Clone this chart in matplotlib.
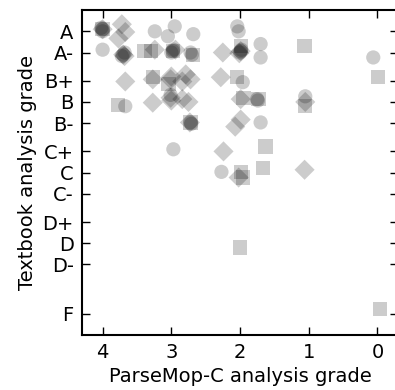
import matplotlib
matplotlib.use("Agg")
import matplotlib.pyplot as plt

# grade scale used on the y axis
grade_names = ['A', 'A-', 'B+', 'B', 'B-', 'C+', 'C', 'C-', 'D+', 'D', 'D-', 'F']
grade_points = [4.0, 3.7, 3.3, 3.0, 2.7, 2.3, 2.0, 1.7, 1.3, 1.0, 0.7, 0.0]

# circles
circ_x = [4.0, 4.0, 4.02, 4.0, 3.7, 3.72, 3.68, 3.24, 2.95, 3.05, 2.98, 3.0, 2.97,
          2.68, 2.72, 2.70, 2.04, 2.02, 1.99, 2.0, 1.98, 1.70, 1.70, 0.06, 1.96,
          3.67, 3.01, 1.75, 1.74, 1.05, 2.72, 2.71, 1.70, 2.97, 2.27]
circ_y = [4.03, 4.0, 4.05, 3.74, 3.67, 3.65, 3.70, 4.0, 4.07, 3.93, 3.72, 3.70, 3.74,
          3.96, 3.70, 3.67, 4.07, 4.0, 3.72, 3.70, 3.74, 3.82, 3.63, 3.63, 3.28,
          2.94, 3.1, 3.04, 3.02, 3.08, 2.71, 2.69, 2.71, 2.33, 2.01]

# diamonds
diam_x = [4.0, 3.72, 3.67, 3.77, 3.7, 3.68, 3.24, 2.94, 2.25, 1.99, 2.01,
          3.67, 3.27, 3.01, 3.0, 2.84, 2.79, 2.72, 2.28,
          3.27, 3.01, 3.0, 2.84, 2.75, 1.99, 1.05,
          2.73, 1.99, 2.07, 2.24, 2.02, 1.06]
diam_y = [4.03, 4.1, 3.99, 3.9, 3.67, 3.65, 3.74, 3.74, 3.70, 3.72, 3.69,
          3.29, 3.32, 3.32, 3.36, 3.29, 3.39, 3.32, 3.35,
          2.99, 3.06, 3.02, 3.04, 3.0, 3.04, 3.0,
          2.71, 2.75, 2.65, 2.30, 1.93, 2.04]

# squares
sq_x = [4.0, 3.39, 3.30, 2.98, 2.68, 1.99, 1.06, 3.27, 3.04, 2.04, -0.01,
        3.78, 1.95, 1.73, 1.05, 2.72, 1.63, 1.99, 1.96, 1.66, 2.0, -0.04]
sq_y = [4.03, 3.72, 3.72, 3.72, 3.67, 3.79, 3.79, 3.35, 3.25, 3.35, 3.35,
        2.96, 3.06, 3.04, 2.94, 2.71, 2.37, 2.01, 1.93, 2.07, 0.94, 0.07]

plt.rcParams['font.family'] = 'DejaVu Sans'
plt.rcParams['font.size'] = 14

fig = plt.figure(figsize=(3.95, 3.9), dpi=100)
ax = fig.add_axes([0.2076, 0.141, 0.8, 0.833])

style = dict(s=105, c='k', alpha=0.2, edgecolors='none')
ax.scatter(circ_x, circ_y, marker='o', **style)
ax.scatter(diam_x, diam_y, marker='D', **style)
ax.scatter(sq_x, sq_y, marker='s', **style)

ax.set_xlim(4.3, -0.3)
ax.set_ylim(-0.3, 4.3)
ax.set_xticks([4, 3, 2, 1, 0])
ax.set_yticks(grade_points)
ax.set_yticklabels(grade_names)
ax.tick_params(direction='in', length=6, width=1, top=True, right=True,
               labelsize=14, pad=6)
for sp in ax.spines.values():
    sp.set_linewidth(1.5)

ax.set_xlabel('ParseMop-C analysis grade', fontsize=14, labelpad=3)
ax.set_ylabel('Textbook analysis grade', fontsize=14, labelpad=4)

fig.savefig('out.png', dpi=100)
